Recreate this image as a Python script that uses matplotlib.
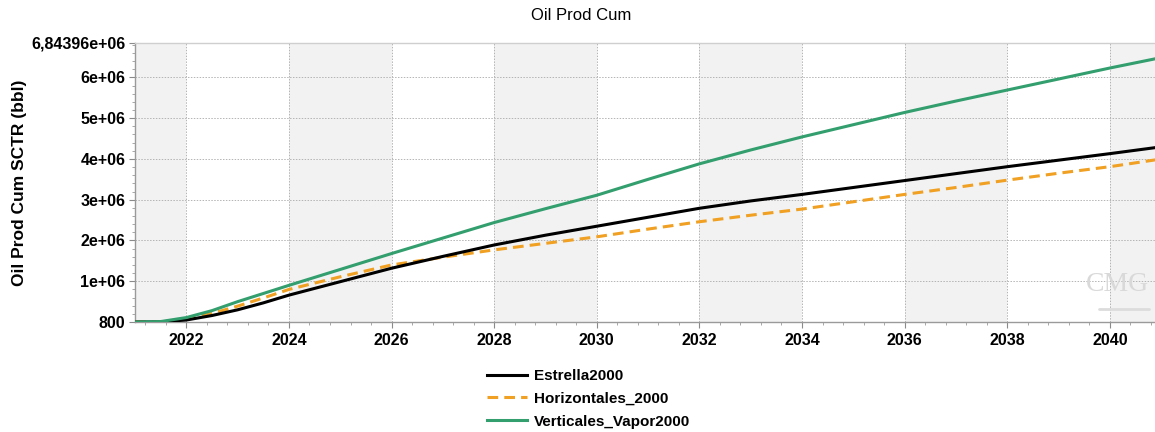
import matplotlib
matplotlib.use("Agg")
import matplotlib.pyplot as plt
from matplotlib.ticker import MultipleLocator, FixedLocator, FixedFormatter
from matplotlib.lines import Line2D

# Time axis (decimal years) and cumulative oil production (bbl)
years = [2021.0, 2021.5, 2022.0, 2022.5, 2023.0, 2023.5, 2024.0, 2025.0, 2026.0,
         2027.0, 2028.0, 2029.0, 2030.0, 2031.0, 2032.0, 2033.0, 2034.0, 2035.0,
         2036.0, 2037.0, 2038.0, 2039.0, 2040.0, 2040.9]

estrella = [800, 5e3, 5e4, 1.6e5, 3.0e5, 4.7e5, 6.6e5, 0.99e6, 1.32e6,
            1.61e6, 1.89e6, 2.13e6, 2.35e6, 2.57e6, 2.79e6, 2.97e6, 3.13e6, 3.30e6,
            3.47e6, 3.64e6, 3.81e6, 3.97e6, 4.13e6, 4.28e6]

horizontales = [800, 8e3, 7e4, 2.1e5, 3.9e5, 5.9e5, 8.0e5, 1.11e6, 1.40e6,
                1.59e6, 1.77e6, 1.93e6, 2.09e6, 2.28e6, 2.46e6, 2.62e6, 2.77e6, 2.95e6,
                3.13e6, 3.30e6, 3.48e6, 3.65e6, 3.81e6, 3.98e6]

verticales = [800, 1.2e4, 1.1e5, 2.8e5, 5.0e5, 7.0e5, 9.0e5, 1.29e6, 1.68e6,
              2.06e6, 2.44e6, 2.78e6, 3.11e6, 3.50e6, 3.88e6, 4.22e6, 4.54e6, 4.84e6,
              5.14e6, 5.42e6, 5.69e6, 5.96e6, 6.23e6, 6.46e6]

series_names = ["Estrella2000", "Horizontales_2000", "Verticales_Vapor2000"]

x_ticks = [2022, 2024, 2026, 2028, 2030, 2032, 2034, 2036, 2038, 2040]
y_ticks = [800, 1e6, 2e6, 3e6, 4e6, 5e6, 6e6, 6843960]
y_tick_labels = ["800", "1e+06", "2e+06", "3e+06", "4e+06", "5e+06", "6e+06", "6,84396e+06"]

x_min, x_max = 2021.0, 2040.88

FONT = ["Liberation Sans", "DejaVu Sans"]
GREEN = "#339e6e"
ORANGE = "#f0a023"

fig = plt.figure(figsize=(11.55, 4.32), dpi=100)
ax = fig.add_axes([0.1169, 0.2546, 0.8831, 0.6459])

# alternating shaded bands between grid lines
band_edges = [x_min] + x_ticks + [x_max]
for i in range(len(band_edges) - 1):
    if i % 2 == 0:
        ax.axvspan(band_edges[i], band_edges[i + 1], color="#f2f2f2", zorder=0, lw=0)

ax.plot(years, estrella, color="black", lw=2.2, zorder=4)
ax.plot(years, horizontales, color=ORANGE, lw=2.2, ls=(0, (3.5, 2)), zorder=3)
ax.plot(years, verticales, color=GREEN, lw=2.2, zorder=5)

ax.set_xlim(x_min, x_max)
ax.set_ylim(y_ticks[0], y_ticks[-1])

ax.xaxis.set_major_locator(FixedLocator(x_ticks))
ax.xaxis.set_minor_locator(MultipleLocator(0.4))
ax.yaxis.set_major_locator(FixedLocator(y_ticks))
ax.yaxis.set_major_formatter(FixedFormatter(y_tick_labels))
ax.yaxis.set_minor_locator(MultipleLocator(2e5))

ax.grid(True, which="major", color="#b4b4b4", ls=(0, (1.5, 1.5)), lw=0.7, zorder=1)
ax.set_axisbelow(True)

for side in ["left", "bottom"]:
    ax.spines[side].set_color("#9a9a9a")
    ax.spines[side].set_linewidth(1.0)
ax.spines["top"].set_color("#cfcfcf")
ax.spines["top"].set_linewidth(1.0)
ax.spines["right"].set_visible(False)

ax.tick_params(axis="both", which="major", direction="out", length=4, color="#8a8a8a",
               labelsize=11.5, pad=3)
ax.tick_params(axis="x", which="major", pad=4)
ax.tick_params(axis="both", which="minor", direction="out", length=2.5, color="#9a9a9a")
for lab in ax.get_xticklabels() + ax.get_yticklabels():
    lab.set_fontweight("bold")
    lab.set_family(FONT)

ax.set_ylabel("Oil Prod Cum SCTR (bbl)", fontsize=12.5, fontweight="bold", family=FONT)
ax.yaxis.set_label_coords(-0.106, 0.5)

fig.text(0.503, 0.965, "Oil Prod Cum", ha="center", va="center", fontsize=12, family=FONT)

# software watermark
ax.text(0.994, 0.135, "CMG", transform=ax.transAxes, ha="right", va="center",
        fontsize=20, color="#d9d9d9", family=["Liberation Serif", "DejaVu Serif"],
        stretch="condensed", zorder=2)
ax.plot([0.945, 0.994], [0.048, 0.048], transform=ax.transAxes, color="#dcdcdc",
        lw=2, zorder=2, solid_capstyle="round")

handles = [
    Line2D([], [], color="black", lw=2.2),
    Line2D([], [], color=ORANGE, lw=2.2, ls=(0, (3.5, 2))),
    Line2D([], [], color=GREEN, lw=2.2),
]
fig.legend(handles, series_names, loc="upper left", bbox_to_anchor=(0.422, 0.146),
           bbox_transform=fig.transFigure, frameon=False,
           prop={"weight": "bold", "size": 11, "family": FONT},
           handlelength=2.6, handletextpad=0.45, labelspacing=0.58,
           borderaxespad=0.0, borderpad=0.0)

fig.savefig("out.png", dpi=100)
